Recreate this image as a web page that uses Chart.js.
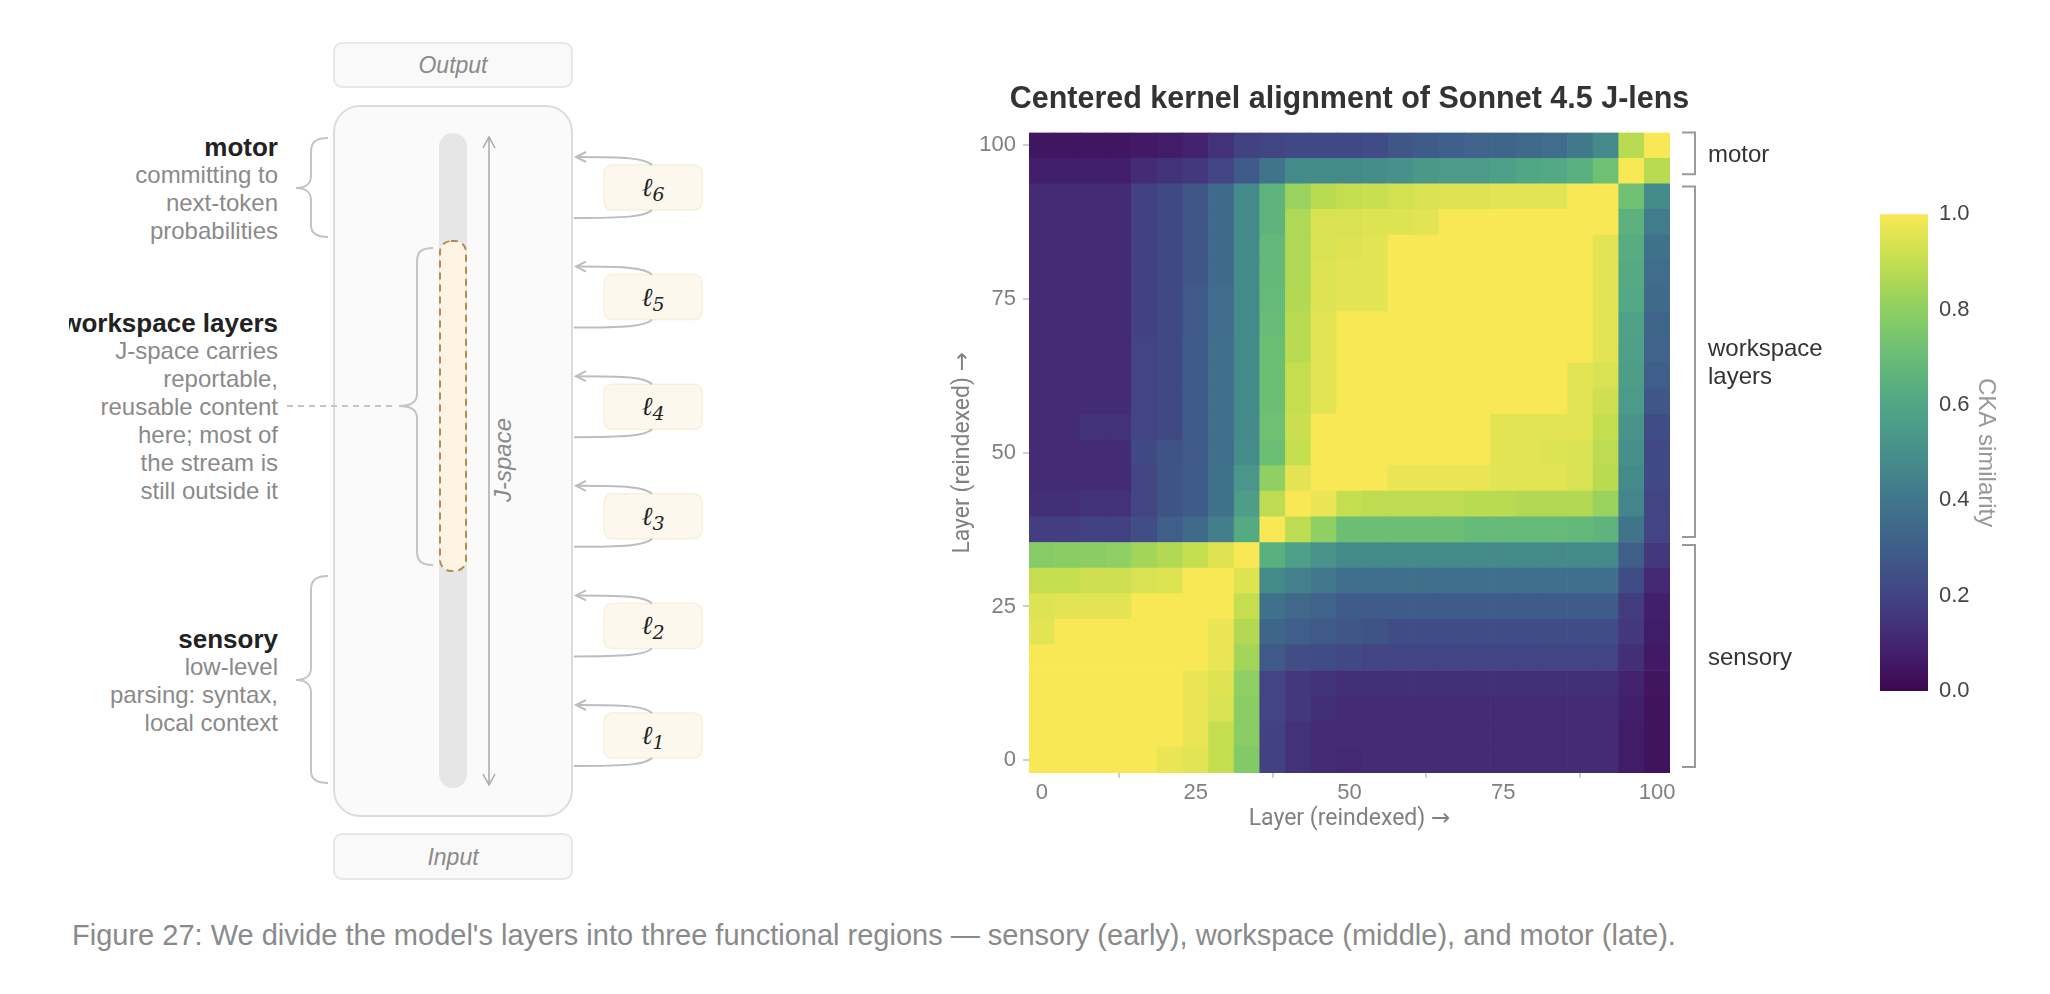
<!DOCTYPE html>
<html>
<head>
<meta charset="utf-8">
<title>CKA of Sonnet 4.5 J-lens</title>
<script src="https://cdn.jsdelivr.net/npm/chart.js@4.4.1/dist/chart.umd.min.js"></script>
<style>
  html, body { margin: 0; padding: 0; background: #fff; }
  body { width: 2050px; height: 994px; position: relative; overflow: hidden; font-family: 'Liberation Sans', Arial, Helvetica, sans-serif; }
  .diagram-clip { position: absolute; left: 69px; top: 0; width: 700px; height: 900px; overflow: hidden; }
  .diagram { position: absolute; left: -69px; top: 0; width: 769px; height: 900px; }
  .diagram svg { position: absolute; left: 0; top: 0; font-family: 'Liberation Sans', Arial, sans-serif; }
  .note { position: absolute; left: 0; width: 278px; text-align: right; font-size: 24px; line-height: 28px; color: #8a8a8a; white-space: nowrap; }
  .note b { display: block; font-size: 26px; color: #222; }
  #heat { position: absolute; left: 900px; top: 60px; }
  #colorbar { position: absolute; left: 1860px; top: 190px; }
  .caption { position: absolute; left: 72px; top: 918px; font-size: 29px; line-height: 34px; color: #8a8a8a; white-space: nowrap; }
</style>
</head>
<body>

<div class="diagram-clip">
  <div class="diagram">
    <svg id="stream" width="769" height="900" viewBox="0 0 769 900">
      <rect x="334" y="43" width="238" height="44" rx="8" fill="#f9f9f9" stroke="#e7e7e7" stroke-width="2"/>
      <text x="453" y="73" text-anchor="middle" font-style="italic" font-size="23" fill="#8a8a8a">Output</text>
      <rect x="334" y="106" width="238" height="710" rx="26" fill="#fafafa" stroke="#dcdcdc" stroke-width="2"/>
      <rect x="334" y="834" width="238" height="45" rx="8" fill="#f9f9f9" stroke="#e7e7e7" stroke-width="2"/>
      <text x="453" y="865" text-anchor="middle" font-style="italic" font-size="23" fill="#8a8a8a">Input</text>

      <rect x="439" y="133" width="28" height="655" rx="14" fill="#e6e6e6"/>
      <rect x="440" y="241" width="26" height="330" rx="11" fill="#fdf4e3" stroke="#b8894d" stroke-width="2" stroke-dasharray="7 5"/>

      <g stroke="#a9a9a9" stroke-width="1.5" fill="none">
        <path d="M489 137 L489 785"/>
        <path d="M483 148 L489 137 L495 148"/>
        <path d="M483 774 L489 785 L495 774"/>
      </g>
      <text transform="translate(511 460) rotate(-90)" text-anchor="middle" font-style="italic" font-size="24" fill="#8a8a8a">J-space</text>

      <g stroke="#c4c4c4" stroke-width="2" fill="none">
        <path d="M328 138 C316 138 311 142 311 152 L311 176 C311 184 305 188 296 188 C305 188 311 192 311 200 L311 225 C311 233 316 237 328 237"/>
        <path d="M433 248 C421 248 417 252 417 262 L417 394 C417 402 411 406 399 406 C411 406 417 410 417 418 L417 551 C417 561 421 565 433 565"/>
        <path d="M328 576 C316 576 311 580 311 590 L311 668 C311 676 305 680 296 680 C305 680 311 684 311 692 L311 771 C311 779 316 783 328 783"/>
        <path d="M287 406 L397 406" stroke-dasharray="6 5"/>
      </g>
      <g id="taps"></g>
    </svg>

    <div class="note" style="top:133px"><b>motor</b>committing to<br>next-token<br>probabilities</div>
    <div class="note" style="top:309px"><b>workspace layers</b>J-space carries<br>reportable,<br>reusable content<br>here; most of<br>the stream is<br>still outside it</div>
    <div class="note" style="top:625px"><b>sensory</b>low-level<br>parsing: syntax,<br>local context</div>
  </div>
</div>

<canvas id="heat" width="960" height="800"></canvas>
<canvas id="colorbar" width="180" height="530"></canvas>

<div class="caption">Figure 27: We divide the model's layers into three functional regions — sensory (early), workspace (middle), and motor (late).</div>

<script>
const FONT = "'Liberation Sans', Arial, Helvetica, sans-serif";
// Roboto has no arrow glyph, so the → falls through to DejaVu Sans (full-size arrow)
const TITLE_FONT = "Roboto, 'DejaVu Sans', 'Liberation Sans', sans-serif";

// layer index (reindexed 0-100) of each sampled layer
const layers = [0, 4.17, 8.33, 12.5, 16.67, 20.83, 25, 29.17, 33.33, 37.5, 41.67, 45.83, 50,
  54.17, 58.33, 62.5, 66.67, 70.83, 75, 79.17, 83.33, 87.5, 91.67, 95.83, 100];

// CKA similarity, one row per layer (row 0 = layer 0), columns in the same order
const cka = [
  [1, 1, 1, 1, 1, 0.97, 0.96, 0.9, 0.77, 0.19, 0.14, 0.12, 0.11, 0.12, 0.12, 0.12, 0.12, 0.12, 0.12, 0.12, 0.12, 0.12, 0.12, 0.07, 0.04],
  [1, 1, 1, 1, 1, 1, 0.97, 0.9, 0.79, 0.19, 0.14, 0.12, 0.12, 0.12, 0.12, 0.12, 0.12, 0.12, 0.12, 0.12, 0.12, 0.12, 0.12, 0.07, 0.04],
  [1, 1, 1, 1, 1, 1, 0.97, 0.94, 0.79, 0.2, 0.16, 0.13, 0.12, 0.12, 0.12, 0.12, 0.12, 0.12, 0.12, 0.12, 0.12, 0.12, 0.12, 0.08, 0.04],
  [1, 1, 1, 1, 1, 1, 0.97, 0.95, 0.8, 0.2, 0.16, 0.14, 0.13, 0.13, 0.13, 0.13, 0.13, 0.13, 0.13, 0.13, 0.13, 0.13, 0.13, 0.09, 0.05],
  [1, 1, 1, 1, 1, 1, 1, 0.97, 0.84, 0.28, 0.24, 0.23, 0.22, 0.2, 0.2, 0.2, 0.2, 0.2, 0.2, 0.2, 0.2, 0.2, 0.2, 0.13, 0.06],
  [0.96, 1, 1, 1, 1, 1, 1, 0.97, 0.87, 0.33, 0.3, 0.28, 0.27, 0.26, 0.23, 0.23, 0.23, 0.23, 0.23, 0.23, 0.23, 0.23, 0.23, 0.16, 0.07],
  [0.95, 0.96, 0.96, 0.96, 1, 1, 1, 1, 0.9, 0.38, 0.34, 0.32, 0.29, 0.29, 0.29, 0.29, 0.29, 0.29, 0.29, 0.29, 0.29, 0.29, 0.29, 0.17, 0.08],
  [0.9, 0.9, 0.92, 0.92, 0.94, 0.95, 1, 1, 0.95, 0.48, 0.44, 0.4, 0.37, 0.37, 0.37, 0.37, 0.37, 0.37, 0.37, 0.37, 0.37, 0.37, 0.37, 0.23, 0.11],
  [0.78, 0.79, 0.79, 0.8, 0.84, 0.87, 0.9, 0.95, 1, 0.64, 0.57, 0.52, 0.48, 0.48, 0.48, 0.48, 0.48, 0.48, 0.48, 0.48, 0.48, 0.48, 0.48, 0.3, 0.16],
  [0.18, 0.18, 0.19, 0.19, 0.24, 0.3, 0.35, 0.43, 0.62, 1, 0.89, 0.8, 0.71, 0.71, 0.71, 0.71, 0.71, 0.69, 0.69, 0.69, 0.69, 0.68, 0.66, 0.39, 0.2],
  [0.13, 0.13, 0.14, 0.14, 0.21, 0.26, 0.29, 0.38, 0.56, 0.89, 1, 0.97, 0.9, 0.89, 0.89, 0.89, 0.89, 0.88, 0.88, 0.87, 0.87, 0.87, 0.82, 0.46, 0.21],
  [0.12, 0.12, 0.12, 0.12, 0.21, 0.26, 0.29, 0.38, 0.53, 0.8, 0.96, 1, 1, 1, 0.97, 0.97, 0.97, 0.97, 0.96, 0.96, 0.96, 0.94, 0.88, 0.48, 0.22],
  [0.12, 0.12, 0.12, 0.12, 0.22, 0.26, 0.28, 0.37, 0.49, 0.71, 0.9, 1, 1, 1, 1, 1, 1, 1, 0.96, 0.96, 0.95, 0.94, 0.89, 0.5, 0.22],
  [0.12, 0.12, 0.14, 0.14, 0.2, 0.22, 0.29, 0.37, 0.48, 0.72, 0.91, 1, 1, 1, 1, 1, 1, 1, 0.96, 0.96, 0.96, 0.96, 0.9, 0.52, 0.23],
  [0.12, 0.12, 0.12, 0.12, 0.2, 0.22, 0.29, 0.37, 0.48, 0.71, 0.9, 0.96, 1, 1, 1, 1, 1, 1, 1, 1, 1, 0.96, 0.92, 0.55, 0.27],
  [0.12, 0.12, 0.12, 0.12, 0.2, 0.22, 0.29, 0.37, 0.48, 0.71, 0.9, 0.96, 1, 1, 1, 1, 1, 1, 1, 1, 1, 0.96, 0.94, 0.56, 0.3],
  [0.12, 0.12, 0.12, 0.12, 0.2, 0.22, 0.29, 0.37, 0.48, 0.71, 0.88, 0.96, 1, 1, 1, 1, 1, 1, 1, 1, 1, 1, 0.96, 0.57, 0.32],
  [0.12, 0.12, 0.12, 0.12, 0.19, 0.22, 0.28, 0.36, 0.48, 0.7, 0.88, 0.96, 1, 1, 1, 1, 1, 1, 1, 1, 1, 1, 0.96, 0.58, 0.33],
  [0.12, 0.12, 0.12, 0.12, 0.19, 0.22, 0.28, 0.36, 0.48, 0.69, 0.87, 0.95, 0.96, 0.96, 1, 1, 1, 1, 1, 1, 1, 1, 0.96, 0.61, 0.35],
  [0.12, 0.12, 0.12, 0.12, 0.19, 0.22, 0.27, 0.35, 0.48, 0.68, 0.86, 0.95, 0.96, 0.96, 1, 1, 1, 1, 1, 1, 1, 1, 0.96, 0.62, 0.36],
  [0.12, 0.12, 0.12, 0.12, 0.19, 0.22, 0.27, 0.35, 0.48, 0.68, 0.86, 0.94, 0.95, 0.96, 1, 1, 1, 1, 1, 1, 1, 1, 0.96, 0.63, 0.38],
  [0.12, 0.12, 0.12, 0.12, 0.19, 0.22, 0.27, 0.35, 0.48, 0.66, 0.86, 0.94, 0.94, 0.95, 0.95, 0.96, 1, 1, 1, 1, 1, 1, 1, 0.65, 0.42],
  [0.12, 0.12, 0.12, 0.12, 0.19, 0.22, 0.27, 0.35, 0.48, 0.66, 0.82, 0.88, 0.9, 0.91, 0.93, 0.94, 0.95, 0.95, 0.96, 0.96, 0.96, 1, 1, 0.72, 0.48],
  [0.08, 0.08, 0.08, 0.08, 0.12, 0.14, 0.16, 0.2, 0.28, 0.39, 0.48, 0.48, 0.48, 0.49, 0.51, 0.54, 0.55, 0.55, 0.57, 0.6, 0.61, 0.64, 0.72, 1, 0.88],
  [0.05, 0.05, 0.05, 0.05, 0.06, 0.07, 0.09, 0.14, 0.19, 0.21, 0.22, 0.22, 0.22, 0.23, 0.27, 0.29, 0.31, 0.32, 0.33, 0.35, 0.36, 0.41, 0.48, 0.88, 1],
];

const axisTicks = [0, 25, 50, 75, 100];
const colorTicks = [0, 0.2, 0.4, 0.6, 0.8, 1];

// functional regions, in layer units
const regionNames = [['sensory'], ['workspace', 'layers'], ['motor']];
const regionFrom = [-1.1, 36.3, 95.3];
const regionTo = [35, 93.3, 102.1];

// residual stream read/write taps drawn next to the diagram
const tapLabels = ['1', '2', '3', '4', '5', '6'];

const VIRIDIS = ['#440154', '#482475', '#414487', '#355f8d', '#2a788e', '#21918c',
  '#22a884', '#44bf70', '#7ad151', '#bddf26', '#fde725'];

// the reference was captured on a wide-gamut screen: sRGB colours end up as display-p3 numbers
const SRGB_TO_P3 = [[0.8225, 0.1774, 0], [0.0332, 0.9669, 0], [0.0171, 0.0724, 0.9108]];
const hexToRgb = hex => [1, 3, 5].map(i => parseInt(hex.slice(i, i + 2), 16));
const toLinear = c => {
  c /= 255;
  return c <= 0.04045 ? c / 12.92 : ((c + 0.055) / 1.055) ** 2.4;
};
const toGamma = c => Math.round(255 * (c <= 0.0031308 ? 12.92 * c : 1.055 * c ** (1 / 2.4) - 0.055));

const ckaColor = v => {
  const t = Math.min(Math.max(v, 0), 1) * (VIRIDIS.length - 1);
  const i = Math.min(Math.floor(t), VIRIDIS.length - 2);
  const f = t - i;
  const a = hexToRgb(VIRIDIS[i]);
  const b = hexToRgb(VIRIDIS[i + 1]);
  const lin = a.map((c, k) => toLinear(c + (b[k] - c) * f));
  const p3 = SRGB_TO_P3.map(row => toGamma(row[0] * lin[0] + row[1] * lin[1] + row[2] * lin[2]));
  return `rgb(${p3.join(', ')})`;
};

// --- diagram taps (l1 .. l6) ---
const drawTaps = () => {
  const group = document.getElementById('taps');
  group.innerHTML = tapLabels.map((label, i) => {
    const top = 713 - i * 109.6;
    return `
      <rect x="604" y="${top}" width="98" height="45" rx="8" fill="#fdf8ee" stroke="#f8efdc" stroke-width="1.5"/>
      <g stroke="#bdbdbd" stroke-width="2" fill="none">
        <path d="M652 ${top} C645 ${top - 7} 625 ${top - 8} 577 ${top - 8}"/>
        <path d="M586 ${top - 13} L576 ${top - 8} L586 ${top - 3}"/>
        <path d="M652 ${top + 45} C645 ${top + 52} 625 ${top + 53} 574 ${top + 53}"/>
      </g>
      <text x="653" y="${top + 31}" text-anchor="middle" font-family="'DejaVu Serif', serif" font-style="italic" font-size="26" fill="#222">ℓ<tspan font-size="19" dy="5">${label}</tspan></text>`;
  }).join('');
};
drawTaps();

// --- heatmap ---
const half = (layers[1] - layers[0]) / 2;
const yMin = layers[0] - half;
const yMax = layers[layers.length - 1] + half;

const datasets = cka.map((row, r) => ({
  label: `layer ${layers[r]}`,
  data: row.map(() => [layers[r] - half, layers[r] + half]),
  backgroundColor: row.map(ckaColor),
  borderWidth: 0,
  barPercentage: 1,
  categoryPercentage: 1,
  grouped: false,
  yAxisID: 'y',
}));

const regionBrackets = {
  id: 'regionBrackets',
  afterDraw(chart) {
    const { ctx, chartArea, scales: { y } } = chart;
    ctx.save();
    ctx.strokeStyle = '#9a9a9a';
    ctx.lineWidth = 2;
    ctx.fillStyle = '#333';
    ctx.font = `24px ${FONT}`;
    ctx.textBaseline = 'middle';
    regionNames.forEach((lines, i) => {
      const top = y.getPixelForValue(regionTo[i]);
      const bottom = y.getPixelForValue(regionFrom[i]);
      const x0 = chartArea.right + 12;
      const x1 = chartArea.right + 25;
      ctx.beginPath();
      ctx.moveTo(x0, top);
      ctx.lineTo(x1, top);
      ctx.lineTo(x1, bottom);
      ctx.lineTo(x0, bottom);
      ctx.stroke();
      const mid = (top + bottom) / 2 + 2;
      lines.forEach((line, k) => {
        ctx.fillText(line, chartArea.right + 38, mid + (k - (lines.length - 1) / 2) * 28);
      });
    });
    ctx.restore();
  },
};

const tickFont = { family: FONT, size: 22 };
const axisTitle = 'Layer (reindexed) →';

new Chart(document.getElementById('heat'), {
  type: 'bar',
  data: { labels: layers, datasets },
  plugins: [regionBrackets],
  options: {
    responsive: false,
    animation: false,
    events: [],
    layout: { padding: { left: 0, right: 61, top: 0, bottom: 0 } },
    plugins: {
      legend: { display: false },
      tooltip: { enabled: false },
      title: {
        display: true,
        text: 'Centered kernel alignment of Sonnet 4.5 J-lens',
        color: '#333',
        font: { family: FONT, size: 30.5, weight: 'bold' },
        padding: { top: 21, bottom: 15 },
      },
    },
    scales: {
      x: {
        type: 'category',
        offset: true,
        grid: { drawOnChartArea: false, tickLength: 5, color: '#cfcfcf', lineWidth: 2 },
        border: { display: false },
        ticks: {
          autoSkip: false,
          maxRotation: 0,
          padding: 2,
          color: '#808080',
          font: tickFont,
          callback: (value, index) => (axisTicks.includes(layers[index]) ? String(layers[index]) : null),
        },
        title: { display: true, text: axisTitle, color: '#808080', font: { family: TITLE_FONT, size: 23 }, padding: { top: 0, bottom: 27 } },
        afterFit: scale => { scale.height = 87; },
      },
      y: {
        type: 'linear',
        min: yMin,
        max: yMax,
        grid: { drawOnChartArea: false, tickLength: 6, color: '#cfcfcf', lineWidth: 2 },
        border: { display: false },
        ticks: { padding: 7, color: '#808080', font: tickFont },
        afterBuildTicks: scale => { scale.ticks = axisTicks.map(value => ({ value })); },
        title: { display: true, text: axisTitle, color: '#808080', font: { family: TITLE_FONT, size: 23 }, padding: { top: 49, bottom: 0 } },
        afterFit: scale => { scale.width = 129; },
      },
      // empty axis so the title stays centred over the heatmap
      yRight: {
        type: 'linear',
        position: 'right',
        min: yMin,
        max: yMax,
        grid: { display: false, drawTicks: false },
        border: { display: false },
        ticks: { display: false },
        afterFit: scale => { scale.width = 129; },
      },
    },
  },
});

// --- colour bar ---
const colorbarFill = context => {
  const { chart } = context;
  const { chartArea, scales } = chart;
  if (!chartArea) return ckaColor(0.5);
  const y = scales.y;
  const gradient = chart.ctx.createLinearGradient(0, y.getPixelForValue(0), 0, y.getPixelForValue(1));
  for (let k = 0; k <= 20; k++) gradient.addColorStop(k / 20, ckaColor(k / 20));
  return gradient;
};

new Chart(document.getElementById('colorbar'), {
  type: 'bar',
  data: {
    labels: ['CKA'],
    datasets: [{
      data: [[colorTicks[0], colorTicks[colorTicks.length - 1]]],
      backgroundColor: colorbarFill,
      borderWidth: 0,
      barPercentage: 1,
      categoryPercentage: 1,
    }],
  },
  options: {
    responsive: false,
    animation: false,
    events: [],
    layout: { padding: { left: 20, right: 0, top: 22, bottom: 29 } },
    plugins: { legend: { display: false }, tooltip: { enabled: false } },
    scales: {
      x: { display: false },
      y: {
        position: 'right',
        min: colorTicks[0],
        max: colorTicks[colorTicks.length - 1],
        grid: { display: false, drawTicks: false },
        border: { display: false },
        ticks: { padding: 11, color: '#444', font: tickFont, callback: value => value.toFixed(1) },
        afterBuildTicks: scale => { scale.ticks = colorTicks.map(value => ({ value })); },
        title: { display: true, text: 'CKA similarity', color: '#999', font: { family: FONT, size: 24 }, padding: { top: 40, bottom: 0 } },
        afterFit: scale => { scale.width = 112; },
      },
    },
  },
});
</script>
</body>
</html>
